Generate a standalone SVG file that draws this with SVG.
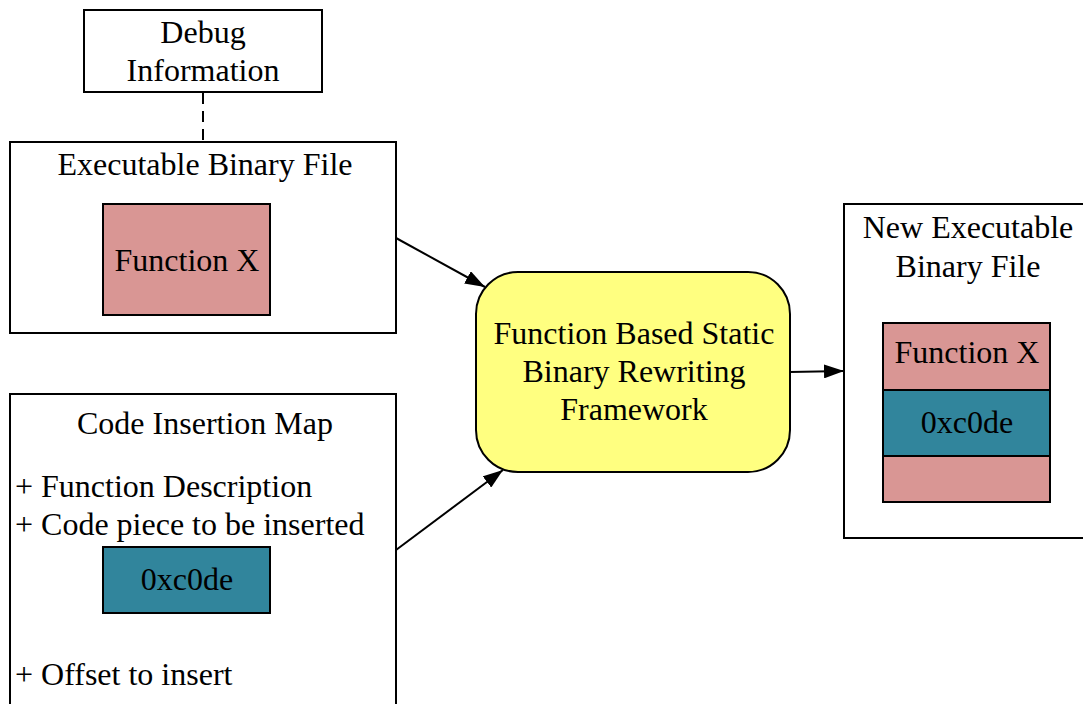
<svg xmlns="http://www.w3.org/2000/svg" width="1083" height="704" viewBox="0 0 1083 704">
<style>
.box{fill:#fff;stroke:#000;stroke-width:2}
.pink{fill:#D99694;stroke:#000;stroke-width:2}
.teal{fill:#31859C;stroke:#000;stroke-width:2}
.core{fill:#FFFF80;stroke:#000;stroke-width:2}
text{font-family:"Liberation Serif","Times New Roman",serif;font-size:32px;fill:#000}
.c{text-anchor:middle}
.conn{stroke:#000;stroke-width:2;fill:none}
</style>
<defs>
<marker id="arrow" viewBox="0 0 20 14" refX="20" refY="7" markerWidth="20" markerHeight="14" markerUnits="userSpaceOnUse" orient="auto">
<path d="M0,0 L20,7 L0,14 z" fill="#000"/>
</marker>
</defs>
<g id="connectors">
<line class="conn" x1="203" y1="93" x2="203" y2="142" stroke-dasharray="11,7"/>
<line class="conn" x1="396" y1="238" x2="485" y2="287" marker-end="url(#arrow)"/>
<line class="conn" x1="396" y1="550" x2="503" y2="470" marker-end="url(#arrow)"/>
<line class="conn" x1="790" y1="372" x2="844" y2="371" marker-end="url(#arrow)"/>
</g>
<g id="debug-info">
<rect class="box" x="84" y="10" width="238" height="82"/>
<text class="c" x="203" y="43">Debug</text>
<text class="c" x="203" y="81">Information</text>
</g>
<g id="executable-binary">
<rect class="box" x="10" y="142" width="386" height="191"/>
<text class="c" x="205" y="175">Executable Binary File</text>
<rect class="pink" x="103" y="204" width="167" height="111"/>
<text class="c" x="187" y="271">Function X</text>
</g>
<g id="code-insertion-map">
<rect class="box" x="10" y="394" width="386" height="330"/>
<text class="c" x="205" y="434">Code Insertion Map</text>
<text x="15" y="497">+ Function Description</text>
<text x="15" y="535">+ Code piece to be inserted</text>
<rect class="teal" x="103" y="547" width="167" height="66"/>
<text class="c" x="187" y="590">0xc0de</text>
<text x="15" y="685">+ Offset to insert</text>
</g>
<g id="framework">
<rect class="core" x="476" y="272" width="314" height="200" rx="42" ry="42"/>
<text class="c" x="634" y="344">Function Based Static</text>
<text class="c" x="634" y="382">Binary Rewriting</text>
<text class="c" x="634" y="420">Framework</text>
</g>
<g id="new-executable">
<rect class="box" x="844" y="204" width="240" height="334"/>
<text class="c" x="968" y="238">New Executable</text>
<text class="c" x="968" y="277">Binary File</text>
<rect class="pink" x="883" y="323" width="167" height="67"/>
<text class="c" x="967" y="363">Function X</text>
<rect class="teal" x="883" y="390" width="167" height="66"/>
<text class="c" x="967" y="433">0xc0de</text>
<rect class="pink" x="883" y="456" width="167" height="46"/>
</g>
</svg>
